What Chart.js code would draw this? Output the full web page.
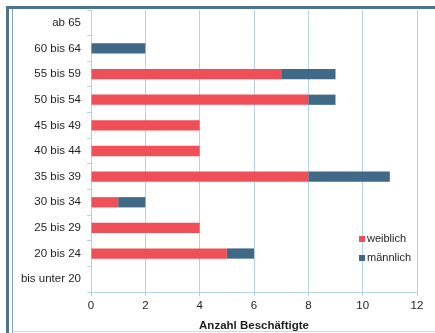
<!DOCTYPE html>
<html lang="de">
<head>
<meta charset="utf-8">
<title>Altersstruktur der Beschäftigten</title>
<script src="https://cdn.jsdelivr.net/npm/chart.js@4/dist/chart.umd.min.js"></script>
<style>
  html, body { margin: 0; padding: 0; background: #fff; }
  #wrap { width: 435px; height: 333px; position: relative; }
</style>
</head>
<body>
<div id="wrap"><canvas id="ageChart" width="435" height="333"></canvas></div>
<script>
const ageGroups = ["ab 65", "60 bis 64", "55 bis 59", "50 bis 54", "45 bis 49", "40 bis 44",
  "35 bis 39", "30 bis 34", "25 bis 29", "20 bis 24", "bis unter 20"];
const female = [0, 0, 7, 8, 4, 4, 8, 1, 4, 5, 0];
const male = [0, 2, 2, 1, 0, 0, 3, 1, 0, 1, 0];
const xTicks = [0, 2, 4, 6, 8, 10, 12];

const gridBlue = "#b4d2e6";
const font = "'Liberation Sans', Arial, sans-serif";
const textColor = "#1e1e1e";

// frame around the whole figure
const framePlugin = {
  id: "frame",
  beforeDraw(chart) {
    const ctx = chart.ctx;
    ctx.save();
    ctx.fillStyle = "#4d7391";
    ctx.fillRect(6, 6, 3, 333);
    ctx.fillRect(6, 6, 429, 3);
    ctx.fillStyle = "#8aa6bb";
    ctx.fillRect(12, 9, 1, 324);
    ctx.fillStyle = "#d8d8d8";
    ctx.fillRect(13, 331, 422, 1);
    ctx.restore();
  }
};

// legend sits inside the plot, lower right
const innerLegend = {
  id: "innerLegend",
  afterDraw(chart) {
    const ctx = chart.ctx;
    ctx.save();
    ctx.font = "11px " + font;
    ctx.textBaseline = "middle";
    chart.data.datasets.forEach((ds, i) => {
      const y = 239 + i * 19;
      ctx.fillStyle = ds.backgroundColor;
      ctx.fillRect(359, y - 3, 6, 6);
      ctx.fillStyle = textColor;
      ctx.fillText(ds.label, 367, y);
    });
    ctx.restore();
  }
};

new Chart(document.getElementById("ageChart"), {
  type: "bar",
  data: {
    labels: ageGroups,
    datasets: [
      { label: "weiblich", data: female, backgroundColor: "#ef4f57" },
      { label: "männlich", data: male, backgroundColor: "#3f6986" }
    ]
  },
  options: {
    indexAxis: "y",
    responsive: false,
    animation: false,
    layout: { padding: { top: 10, right: 18, bottom: 0, left: 0 } },
    datasets: { bar: { barPercentage: 0.4, categoryPercentage: 1 } },
    plugins: { legend: { display: false }, tooltip: { enabled: false } },
    scales: {
      x: {
        stacked: true,
        min: 0,
        max: 12,
        afterBuildTicks(axis) { axis.ticks = xTicks.map(v => ({ value: v })); },
        afterFit(axis) { axis.height = 41; },
        grid: { color: gridBlue, tickLength: 4 },
        border: { color: gridBlue },
        ticks: { color: textColor, font: { family: font, size: 11.5 }, padding: 3 },
        title: {
          display: true,
          text: "Anzahl Beschäftigte",
          color: textColor,
          font: { family: font, size: 11.5, weight: "bold" },
          padding: { top: 0, bottom: 0 }
        }
      },
      y: {
        stacked: true,
        afterFit(axis) {
          axis.width = 91;
          axis.paddingTop = 0;
          axis.paddingBottom = 0;
        },
        grid: { drawOnChartArea: false, color: gridBlue, tickLength: 4 },
        border: { color: gridBlue },
        ticks: { color: textColor, font: { family: font, size: 11.5 }, padding: 6 }
      }
    }
  },
  plugins: [framePlugin, innerLegend]
});
</script>
</body>
</html>
